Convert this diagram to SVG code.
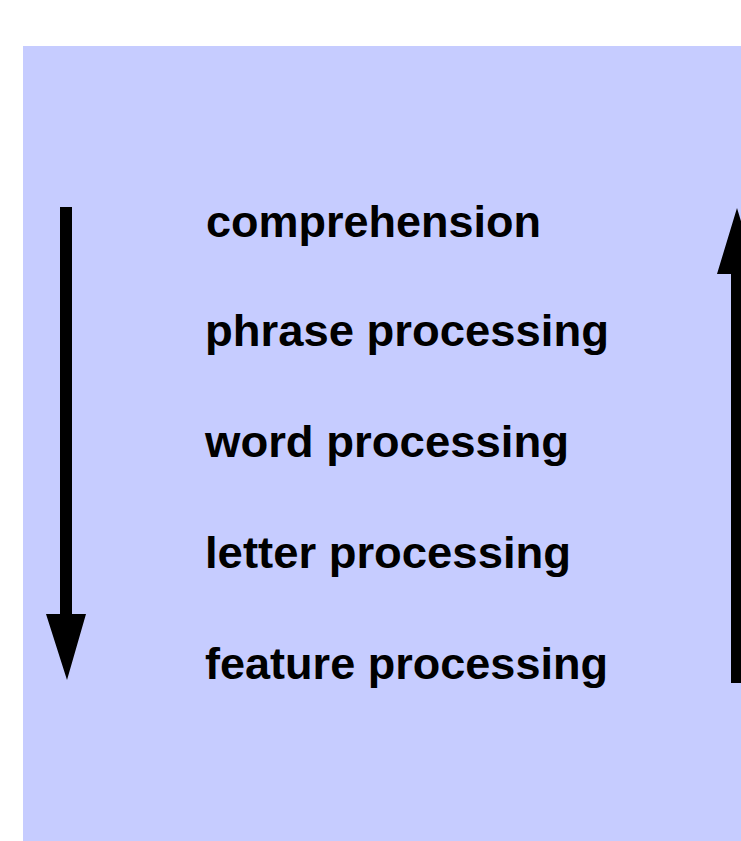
<svg xmlns="http://www.w3.org/2000/svg" width="741" height="841" viewBox="0 0 741 841">
<style>
.lbl{font-family:"Liberation Sans",Arial,sans-serif;font-weight:bold;font-size:44px;fill:#000}
.ar{fill:#000}
</style>
<rect x="0" y="0" width="741" height="841" fill="#fff"/>
<rect x="23" y="46" width="718" height="795" fill="#C6CCFF"/>
<g id="connectors">
<path class="ar" d="M60,207 H72 V614 H86 L67,680 L46,614 H60 Z"/>
<path class="ar" d="M731,683 V274 H717 L737,208 L757,274 H743 V683 Z"/>
</g>
<g id="comprehension"><text class="lbl" x="206" y="237" textLength="335" lengthAdjust="spacingAndGlyphs">comprehension</text></g>
<g id="phrase"><text class="lbl" x="205" y="346" textLength="404" lengthAdjust="spacingAndGlyphs">phrase processing</text></g>
<g id="word"><text class="lbl" x="205" y="457" textLength="364" lengthAdjust="spacingAndGlyphs">word processing</text></g>
<g id="letter"><text class="lbl" x="205" y="568" textLength="366" lengthAdjust="spacingAndGlyphs">letter processing</text></g>
<g id="feature"><text class="lbl" x="205" y="679" textLength="403" lengthAdjust="spacingAndGlyphs">feature processing</text></g>
</svg>
